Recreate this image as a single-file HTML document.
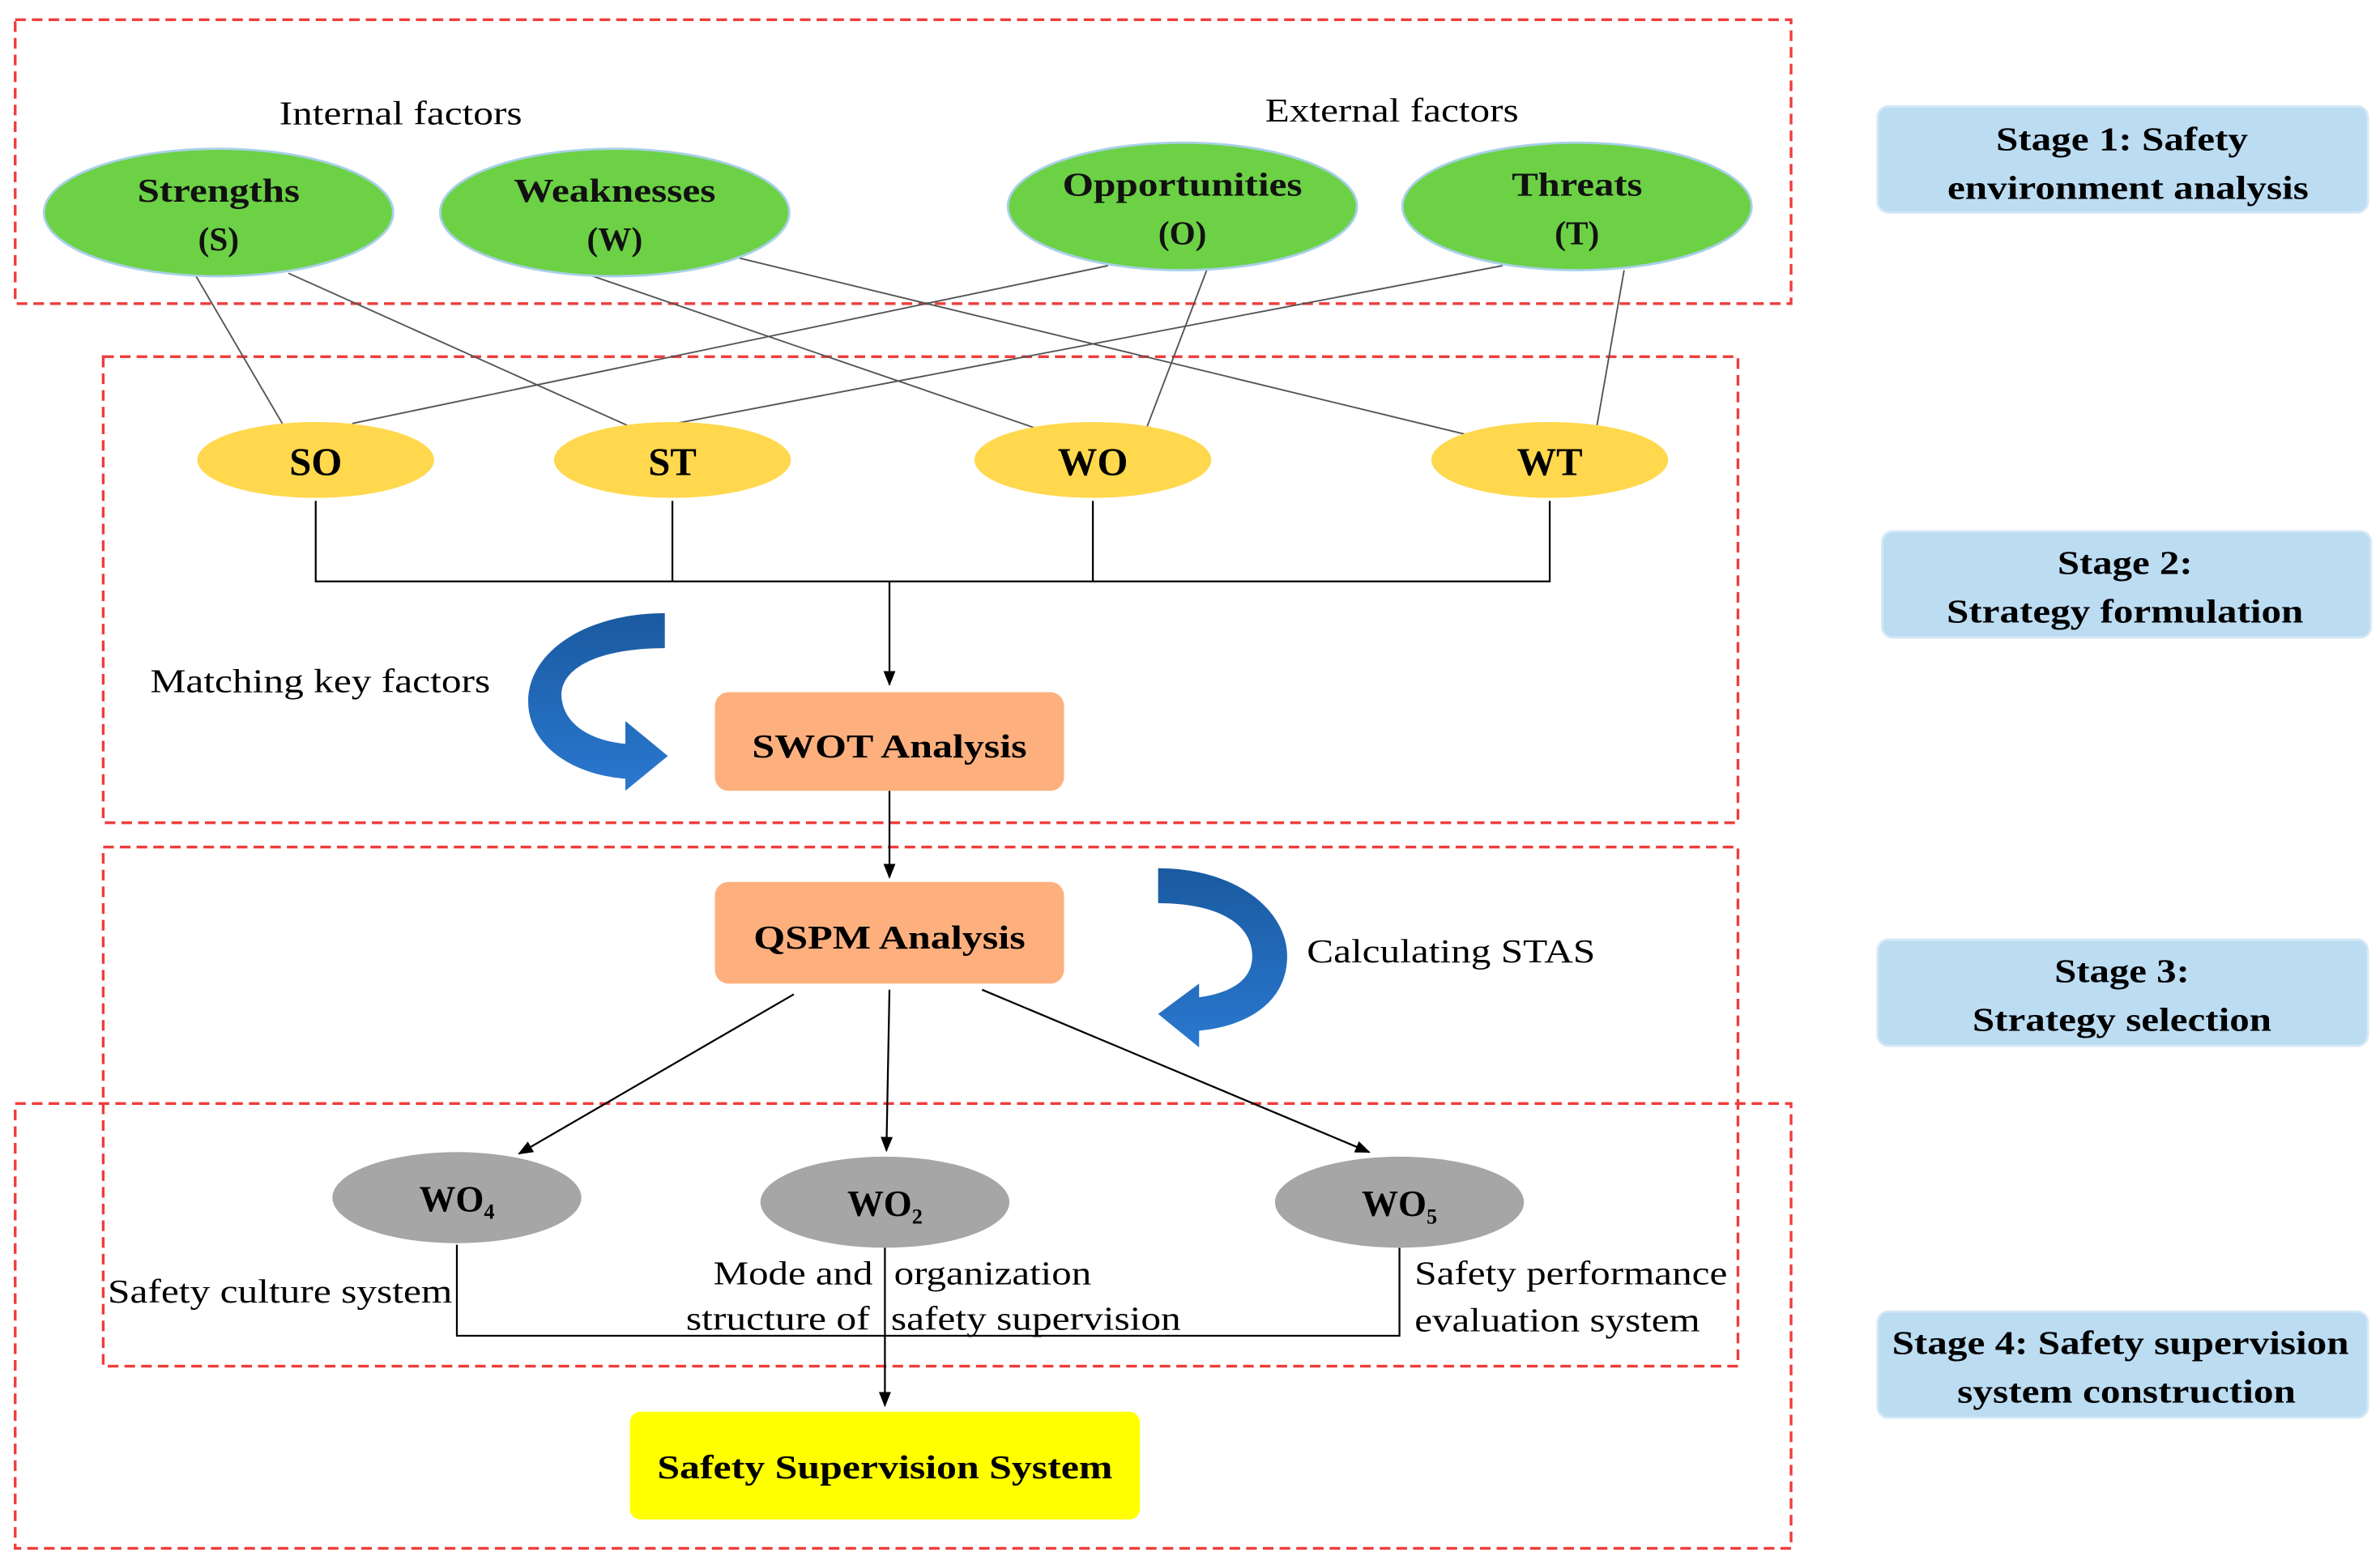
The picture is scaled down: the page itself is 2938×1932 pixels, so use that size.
<!DOCTYPE html>
<html><head><meta charset="utf-8"><style>
html,body{margin:0;padding:0;background:#fff;}
svg{display:block;}
</style></head><body>
<svg width="2938" height="1932" viewBox="0 0 1568 1031" preserveAspectRatio="none" xmlns="http://www.w3.org/2000/svg" font-family="'Liberation Serif', serif">
<defs>
<marker id="ah" markerWidth="10" markerHeight="10" refX="9" refY="5" orient="auto" markerUnits="userSpaceOnUse"><path d="M0,1 L10,5 L0,9 Z" fill="#000"/></marker>
<linearGradient id="bg1" x1="0" y1="0" x2="0" y2="1"><stop offset="0" stop-color="#1a5aa0"/><stop offset="1" stop-color="#2a78d0"/></linearGradient>
</defs>
<g fill="none" stroke="#f03c3c" stroke-width="1.8" stroke-dasharray="7,4">
<rect x="10" y="13" width="1170" height="187"/>
<rect x="68" y="235" width="1077" height="307"/>
<rect x="68" y="558" width="1077" height="342"/>
<rect x="10" y="727" width="1170" height="293"/>
</g>
<g stroke="#555" stroke-width="1">
<line x1="128" y1="180" x2="186" y2="279"/>
<line x1="190" y1="180" x2="415" y2="281"/>
<line x1="385" y1="180" x2="685" y2="283"/>
<line x1="487" y1="170" x2="965" y2="286"/>
<line x1="730" y1="175" x2="232" y2="279"/>
<line x1="795" y1="178" x2="755" y2="283"/>
<line x1="990" y1="175" x2="445" y2="279"/>
<line x1="1070" y1="178" x2="1052" y2="281"/>
</g>
<g fill="#6cd145" stroke="#a8d0e8" stroke-width="1.5">
<ellipse cx="144" cy="140" rx="115" ry="42"/>
<ellipse cx="405" cy="140" rx="115" ry="42"/>
<ellipse cx="779" cy="136" rx="115" ry="42"/>
<ellipse cx="1039" cy="136" rx="115" ry="42"/>
</g>
<g font-weight="bold" font-size="22" text-anchor="middle" fill="#111" lengthAdjust="spacingAndGlyphs">
<text x="144" y="133" textLength="107" lengthAdjust="spacingAndGlyphs">Strengths</text><text x="144" y="165">(S)</text>
<text x="405" y="133" textLength="133" lengthAdjust="spacingAndGlyphs">Weaknesses</text><text x="405" y="165">(W)</text>
<text x="779" y="129" textLength="158" lengthAdjust="spacingAndGlyphs">Opportunities</text><text x="779" y="161">(O)</text>
<text x="1039" y="129" textLength="86" lengthAdjust="spacingAndGlyphs">Threats</text><text x="1039" y="161">(T)</text>
</g>
<text x="264" y="82" font-size="22" text-anchor="middle" textLength="160" lengthAdjust="spacingAndGlyphs">Internal factors</text>
<text x="917" y="80" font-size="22" text-anchor="middle" textLength="167" lengthAdjust="spacingAndGlyphs">External factors</text>
<g fill="#ffd84e">
<ellipse cx="208" cy="303" rx="78" ry="25"/>
<ellipse cx="443" cy="303" rx="78" ry="25"/>
<ellipse cx="720" cy="303" rx="78" ry="25"/>
<ellipse cx="1021" cy="303" rx="78" ry="25"/>
</g>
<g font-weight="bold" font-size="26" text-anchor="middle">
<text x="208" y="313">SO</text><text x="443" y="313">ST</text><text x="720" y="313">WO</text><text x="1021" y="313">WT</text>
</g>
<g stroke="#000" stroke-width="1.2" fill="none">
<path d="M208,330 V383 H1021 V330 M443,330 V383 M720,330 V383"/>
<line x1="586" y1="383" x2="586" y2="451" marker-end="url(#ah)"/>
<line x1="586" y1="521" x2="586" y2="578" marker-end="url(#ah)"/>
<line x1="523" y1="655" x2="342" y2="760" marker-end="url(#ah)"/>
<line x1="586" y1="652" x2="584" y2="758" marker-end="url(#ah)"/>
<line x1="647" y1="652" x2="902" y2="759" marker-end="url(#ah)"/>
<path d="M301,820 V880 H922 V822"/>
<line x1="583" y1="822" x2="583" y2="926" marker-end="url(#ah)"/>
</g>
<rect x="471" y="456" width="230" height="65" rx="9" fill="#fdb07e"/>
<rect x="471" y="581" width="230" height="67" rx="9" fill="#fdb07e"/>
<text x="586" y="499" font-weight="bold" font-size="22" text-anchor="middle" textLength="181" lengthAdjust="spacingAndGlyphs">SWOT Analysis</text>
<text x="586" y="625" font-weight="bold" font-size="22" text-anchor="middle" textLength="179" lengthAdjust="spacingAndGlyphs">QSPM Analysis</text>
<path d="M438,404 L438,427 C395,427 368,440 370,460 C372,478 390,488 412,490 L412,475 L440,498 L412,521 L412,513 C375,510 348,490 348,462 C348,430 385,404 438,404 Z" fill="url(#bg1)"/>
<path d="M763,572 C815,572 848,600 848,630 C848,660 822,676 790,679 L790,690 L763,668 L790,648 L790,657 C812,654 825,645 825,630 C825,610 805,595 763,595 Z" fill="url(#bg1)"/>
<text x="99" y="456" font-size="22" textLength="224" lengthAdjust="spacingAndGlyphs">Matching key factors</text>
<text x="861" y="634" font-size="22" textLength="190" lengthAdjust="spacingAndGlyphs">Calculating STAS</text>
<g fill="#a6a6a6">
<ellipse cx="301" cy="789" rx="82" ry="30"/>
<ellipse cx="583" cy="792" rx="82" ry="30"/>
<ellipse cx="922" cy="792" rx="82" ry="30"/>
</g>
<g font-weight="bold" font-size="24" text-anchor="middle">
<text x="301" y="798">WO<tspan font-size="14" dy="5">4</tspan></text>
<text x="583" y="801">WO<tspan font-size="14" dy="5">2</tspan></text>
<text x="922" y="801">WO<tspan font-size="14" dy="5">5</tspan></text>
</g>
<g font-size="22">
<text x="71" y="858" textLength="227" lengthAdjust="spacingAndGlyphs">Safety culture system</text>
<text x="470" y="846" textLength="105" lengthAdjust="spacingAndGlyphs">Mode and</text>
<text x="452" y="876" textLength="121" lengthAdjust="spacingAndGlyphs">structure of</text>
<text x="589" y="846" textLength="130" lengthAdjust="spacingAndGlyphs">organization</text>
<text x="587" y="876" textLength="191" lengthAdjust="spacingAndGlyphs">safety supervision</text>
<text x="932" y="846" textLength="206" lengthAdjust="spacingAndGlyphs">Safety performance</text>
<text x="932" y="877" textLength="188" lengthAdjust="spacingAndGlyphs">evaluation system</text>
</g>
<rect x="415" y="930" width="336" height="71" rx="7" fill="#ffff00"/>
<text x="583" y="974" font-weight="bold" font-size="22" text-anchor="middle" textLength="300" lengthAdjust="spacingAndGlyphs">Safety Supervision System</text>
<g fill="#bcdcf2" stroke="#d6e9f6" stroke-width="1.5">
<rect x="1237" y="70" width="323" height="70" rx="7"/>
<rect x="1240" y="350" width="322" height="70" rx="7"/>
<rect x="1237" y="619" width="323" height="70" rx="7"/>
<rect x="1237" y="864" width="323" height="70" rx="7"/>
</g>
<g font-weight="bold" font-size="22" text-anchor="middle">
<text x="1398" y="99" textLength="166" lengthAdjust="spacingAndGlyphs">Stage 1: Safety</text><text x="1402" y="131" textLength="238" lengthAdjust="spacingAndGlyphs">environment analysis</text>
<text x="1400" y="378" textLength="89" lengthAdjust="spacingAndGlyphs">Stage 2:</text><text x="1400" y="410" textLength="235" lengthAdjust="spacingAndGlyphs">Strategy formulation</text>
<text x="1398" y="647" textLength="89" lengthAdjust="spacingAndGlyphs">Stage 3:</text><text x="1398" y="679" textLength="197" lengthAdjust="spacingAndGlyphs">Strategy selection</text>
<text x="1397" y="892" textLength="301" lengthAdjust="spacingAndGlyphs">Stage 4: Safety supervision</text><text x="1401" y="924" textLength="223" lengthAdjust="spacingAndGlyphs">system construction</text>
</g>
</svg>
</body></html>
